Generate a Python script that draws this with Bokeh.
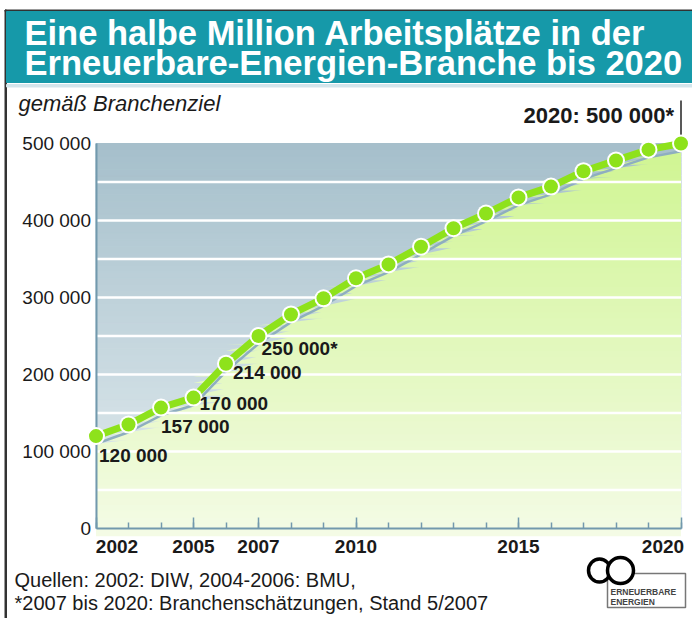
import numpy as np
from bokeh.plotting import figure
from bokeh.models import (Range1d, FixedTicker, ColumnDataSource, LabelSet, Label,
                          LinearAxis)
from bokeh.core.properties import value
from bokeh.embed import file_html
from bokeh.resources import INLINE

# ---------------- data ----------------
title_lines = ["Eine halbe Million Arbeitsplätze in der",
               "Erneuerbare-Energien-Branche bis 2020"]
subtitle = "gemäß Branchenziel"
target_label = "2020: 500 000*"
years = [2002, 2003, 2004, 2005, 2006, 2007, 2008, 2009, 2010, 2011,
         2012, 2013, 2014, 2015, 2016, 2017, 2018, 2019, 2020]
jobs = [120000, 135000, 157000, 170000, 214000, 250000, 278000, 299000, 325000,
        343000, 366000, 390000, 409000, 430000, 444000, 464000, 478000, 492000, 500000]
label_years = [2002, 2004, 2005, 2006, 2007]
label_values = [120000, 157000, 170000, 214000, 250000]
label_texts = ["120 000", "157 000", "170 000", "214 000", "250 000*"]
x_ticks = [2002, 2005, 2007, 2010, 2015, 2020]
x_tick_labels = ["2002", "2005", "2007", "2010", "2015", "2020"]
y_ticks = [0, 100000, 200000, 300000, 400000, 500000]
y_tick_labels = ["0", "100 000", "200 000", "300 000", "400 000", "500 000"]
grid_values = [50000, 100000, 150000, 200000, 250000, 300000, 350000, 400000, 450000]
source_lines = ["Quellen: 2002: DIW, 2004-2006: BMU,",
                "*2007 bis 2020: Branchenschätzungen, Stand 5/2007"]
logo_lines = ["ERNEUERBARE", "ENERGIEN"]

# ---------------- style / geometry ----------------
W, H = 692, 618
FONT = "Liberation Sans"
TEAL = "#1699a9"
LIME = "#8ee21b"
TEXT = "#1a1a1a"
AXIS = "#7299ad"
FRAME = "#333333"

PX_YEAR = 32.5          # pixels per year
X_FIRST_PX = 95.5       # pixel position of first year
Y_ZERO_PX = 528.0       # pixel position of value 0 (from top)
PX_PER_UNIT = 385.0 / 500000.0

XS = years[0] - X_FIRST_PX / PX_YEAR
XE = XS + W / PX_YEAR
YE = Y_ZERO_PX / PX_PER_UNIT
YS = -(H - Y_ZERO_PX) / PX_PER_UNIT


def X(px):
    return XS + px / PX_YEAR


def Y(py):
    return (Y_ZERO_PX - py) / PX_PER_UNIT


def hex2rgb(h):
    h = h.lstrip("#")
    return np.array([int(h[i:i + 2], 16) for i in (0, 2, 4)], dtype=float)


def mix(c0, c1, t):
    a, b = hex2rgb(c0), hex2rgb(c1)
    c = a + (b - a) * t
    return "#%02x%02x%02x" % tuple(int(round(v)) for v in c)


p = figure(width=W, height=H, x_range=Range1d(XS, XE), y_range=Range1d(YS, YE),
           x_axis_type=None, y_axis_type=None, toolbar_location=None,
           output_backend="svg", min_border=0)
p.min_border_left = p.min_border_right = p.min_border_top = p.min_border_bottom = 0
p.outline_line_color = None
p.background_fill_color = "white"
p.border_fill_color = "white"

# ---------------- frame + banner ----------------
p.quad(left=X(4.5), right=X(W), top=Y(9.5), bottom=Y(11), color=FRAME)
p.quad(left=X(4.5), right=X(6), top=Y(9.5), bottom=Y(H), color=FRAME)
p.quad(left=X(6), right=X(W), top=Y(11), bottom=Y(82), color=TEAL)
p.quad(left=X(6), right=X(W), top=Y(84), bottom=Y(86.5), color="#d3e5eb")
for t, yc in zip(title_lines, [32, 62]):
    p.add_layout(Label(x=X(24), y=Y(yc), text=t, text_font=FONT, text_font_size="34.5px",
                       text_font_style="bold", text_color="white",
                       text_baseline="middle"))

# ---------------- chart background gradient ----------------
nb = 60
edges = np.linspace(y_ticks[0], y_ticks[-1], nb + 1)
bg_cols = [mix("#e4edf0", "#a5bfcb", (i + 0.5) / nb) for i in range(nb)]
p.quad(left=years[0], right=years[-1], bottom=edges[:-1], top=edges[1:],
       fill_color=bg_cols, line_color=bg_cols, line_width=1)

# green area, drawn with a slight downward shadow offset
shift = 10000
p.extra_y_ranges = {"shadow": Range1d(YS + shift, YE + shift)}
jobs_arr = np.array(jobs, dtype=float)
ov = 900
for i in range(nb):
    lo, hi = edges[i], edges[i + 1]
    if jobs_arr.max() <= lo:
        continue
    top = np.clip(jobs_arr, lo - ov, hi)
    bot = np.full(len(years), max(lo - ov, 0))
    col = mix("#f4fbe6", "#d0f593", (i + 0.5) / nb)
    p.varea(x=years, y1=bot, y2=top, fill_color=col, y_range_name="shadow")
p.line(years, jobs, y_range_name="shadow", line_color="#8eaebf", line_width=2.5)

# white grid lines across the chart area
p.segment(x0=[years[0]] * len(grid_values), y0=grid_values,
          x1=[years[-1]] * len(grid_values), y1=grid_values,
          line_color="white", line_width=2.5)

# axes (library axes fixed at the chart origin)
xa = LinearAxis(fixed_location=y_ticks[0], bounds=(years[0], years[-1]),
                ticker=FixedTicker(ticks=x_ticks, minor_ticks=years))
xa.major_label_overrides = {t: "" for t in x_ticks}
xa.axis_line_color = AXIS
xa.axis_line_width = 2
xa.major_tick_in = 11
xa.major_tick_out = 0
xa.minor_tick_in = 6
xa.minor_tick_out = 0
xa.major_tick_line_color = AXIS
xa.minor_tick_line_color = AXIS
xa.major_tick_line_width = 1.5
xa.minor_tick_line_width = 1.5
p.add_layout(xa, "below")

ya = LinearAxis(fixed_location=years[0], bounds=(y_ticks[0], y_ticks[-1]),
                ticker=FixedTicker(ticks=y_ticks))
ya.major_label_overrides = dict(zip(y_ticks, y_tick_labels))
ya.axis_line_color = AXIS
ya.axis_line_width = 2
ya.major_tick_line_color = None
ya.minor_tick_line_color = None
ya.major_tick_out = 0
ya.major_tick_in = 0
ya.major_label_standoff = 5
ya.major_label_text_font = FONT
ya.major_label_text_font_size = "19px"
ya.major_label_text_color = TEXT
p.add_layout(ya, "left")

# leader line for final value
p.segment(x0=[years[-1]], y0=[jobs[-1]], x1=[years[-1]], y1=[Y(100)],
          line_color="#222222", line_width=1.5, level="overlay")

# series line with dots
p.line(years, jobs, line_color=LIME, line_width=7, level="overlay")
p.scatter(years, jobs, size=18, fill_color="white", line_color=None, level="overlay")
p.scatter(years, jobs, size=14, fill_color=LIME, line_color=None, level="overlay")

# value labels
lab_src = ColumnDataSource(dict(x=label_years, y=label_values, text=label_texts,
                                xo=[3, 0, 6, 7, 3], yo=[-19, -19, -6, -9, -12]))
p.add_layout(LabelSet(x="x", y="y", text="text", source=lab_src, x_offset="xo",
                      y_offset="yo", text_font=value(FONT), text_font_size="19px",
                      text_font_style="bold", text_color=TEXT,
                      text_align="left", text_baseline="middle", level="overlay"))

# year labels
yr_src = ColumnDataSource(dict(x=x_ticks, text=x_tick_labels,
                               y=[Y(546)] * len(x_ticks),
                               xo=[21, 0, 0, 0, 0, -18]))
p.add_layout(LabelSet(x="x", y="y", text="text", source=yr_src, x_offset="xo",
                      text_font=value(FONT), text_font_size="19px",
                      text_font_style="bold", text_color=TEXT,
                      text_align="center", text_baseline="middle"))

# subtitle and target label
p.add_layout(Label(x=X(18), y=Y(103), text=subtitle, text_font=FONT,
                   text_font_size="22px", text_font_style="italic",
                   text_color=TEXT, text_baseline="middle", text_align="left"))
p.add_layout(Label(x=years[-1], y=Y(115), x_offset=-7, text=target_label,
                   text_font=FONT, text_font_size="22px", text_font_style="bold",
                   text_color=TEXT, text_baseline="middle", text_align="right"))

# ---------------- sources ----------------
for t, yc in zip(source_lines, [579, 602]):
    p.add_layout(Label(x=X(14), y=Y(yc), text=t, text_font=FONT, text_font_size="20px",
                       text_color=TEXT, text_baseline="middle"))

# ---------------- logo ----------------
p.quad(left=X(607), right=X(685), top=Y(573), bottom=Y(607), fill_color=None,
       line_color="#777777", line_width=1.5)
p.ellipse(x=[X(599), X(620)], y=[Y(570), Y(570)], width=[22 / PX_YEAR, 26 / PX_YEAR],
          height=[23 / PX_PER_UNIT, 26 / PX_PER_UNIT],
          fill_color="white", line_color="black", line_width=3.5)
for t, yc in zip(logo_lines, [591.5, 601]):
    p.add_layout(Label(x=X(610), y=Y(yc), text=t, text_font=FONT, text_font_size="8.5px",
                       text_font_style="bold", text_color="#444444",
                       text_baseline="middle"))

open("out.html", "w").write(file_html(p, INLINE))
